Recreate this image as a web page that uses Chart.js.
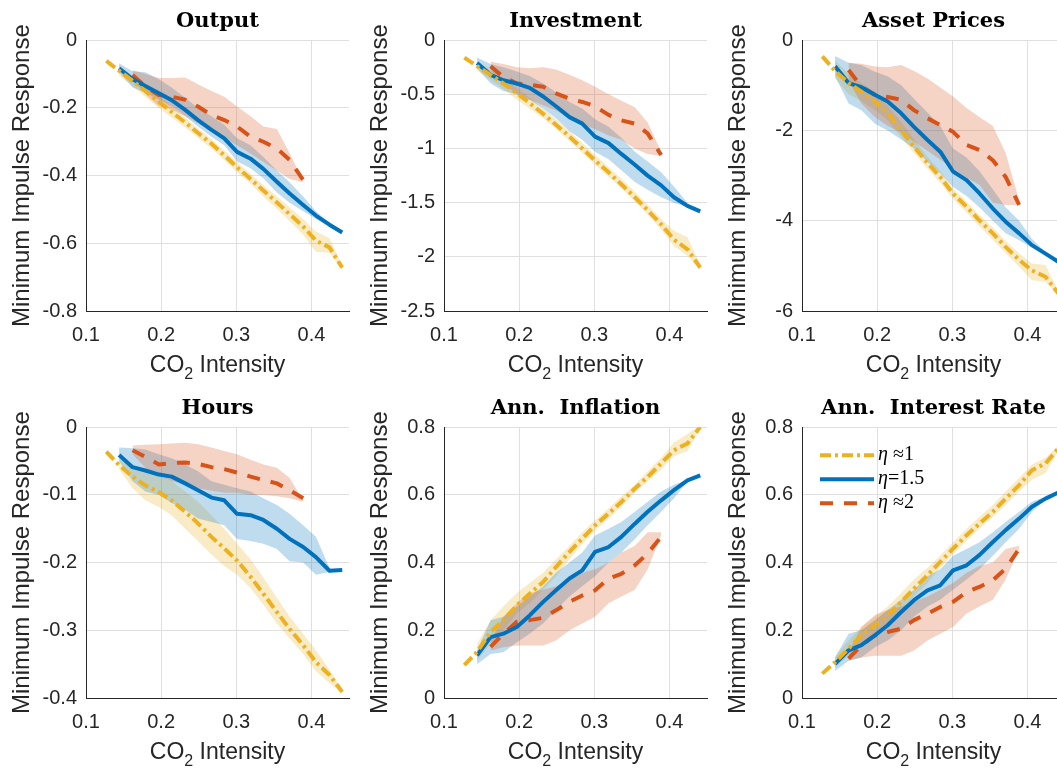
<!DOCTYPE html>
<html>
<head>
<meta charset="utf-8">
<script src="https://cdn.jsdelivr.net/npm/chart.js@4.4.1/dist/chart.umd.min.js"></script>
<style>
  html, body { margin: 0; background: #fff; overflow: hidden; }
  #fig { position: relative; width: 1057px; height: 768px; overflow: hidden; }
  #fig canvas { position: absolute; }
</style>
</head>
<body>
<div id="fig">
  <canvas id="c-output" width="358" height="387" style="left:0;top:0"></canvas>
  <canvas id="c-investment" width="358" height="387" style="left:358px;top:0"></canvas>
  <canvas id="c-asset" width="358" height="387" style="left:716px;top:0"></canvas>
  <canvas id="c-hours" width="358" height="387" style="left:0;top:387px"></canvas>
  <canvas id="c-inflation" width="358" height="387" style="left:358px;top:387px"></canvas>
  <canvas id="c-rate" width="358" height="387" style="left:716px;top:387px"></canvas>
</div>
<script>
// CO2 intensity grid shared by every panel
const co2 = [0.127, 0.144, 0.162, 0.179, 0.197, 0.214, 0.232, 0.249, 0.267, 0.284, 0.301, 0.319, 0.336, 0.354, 0.371, 0.389, 0.406, 0.424, 0.441];
const xTicks = [0.1, 0.2, 0.3, 0.4];
const etaLabels = ['η ≈1', 'η=1.5', 'η ≈2'];

// y ticks per panel
const outputTicks = [0, -0.2, -0.4, -0.6, -0.8];
const investmentTicks = [0, -0.5, -1, -1.5, -2, -2.5];
const assetTicks = [0, -2, -4, -6];
const hoursTicks = [0, -0.1, -0.2, -0.3, -0.4];
const inflationTicks = [0, 0.2, 0.4, 0.6, 0.8];
const rateTicks = [0, 0.2, 0.4, 0.6, 0.8];

// Output
const outputEta1 = [-0.061, -0.090, -0.120, -0.150, -0.182, -0.212, -0.243, -0.274, -0.306, -0.340, -0.375, -0.410, -0.444, -0.479, -0.514, -0.550, -0.592, -0.612, -0.672];
const outputEta1Lo = [null, -0.105, -0.135, -0.168, -0.200, -0.228, -0.258, -0.288, -0.320, -0.355, -0.390, -0.425, -0.462, -0.498, -0.535, -0.575, -0.625, -0.628, -0.678];
const outputEta1Hi = [null, -0.075, -0.105, -0.135, -0.165, -0.195, -0.228, -0.260, -0.292, -0.326, -0.360, -0.395, -0.428, -0.462, -0.494, -0.528, -0.565, -0.585, -0.666];
const outputEta15 = [null, -0.083, -0.115, -0.135, -0.157, -0.177, -0.206, -0.236, -0.265, -0.290, -0.330, -0.350, -0.380, -0.418, -0.453, -0.487, -0.518, -0.545, -0.568];
const outputEta15Lo = [null, -0.095, -0.140, -0.155, -0.175, -0.195, -0.225, -0.255, -0.285, -0.310, -0.358, -0.378, -0.408, -0.450, -0.480, -0.505, -0.528, -0.550, null];
const outputEta15Hi = [null, -0.068, -0.092, -0.095, -0.115, -0.140, -0.170, -0.200, -0.225, -0.250, -0.290, -0.310, -0.345, -0.385, -0.420, -0.462, -0.505, -0.540, null];
const outputEta2 = [null, null, -0.103, -0.137, -0.162, -0.167, -0.176, -0.196, -0.221, -0.236, -0.255, -0.285, -0.300, -0.320, -0.354, -0.413, null, null, null];
const outputEta2Lo = [null, null, -0.117, -0.160, -0.195, -0.205, -0.225, -0.245, -0.270, -0.290, -0.310, -0.335, -0.360, -0.385, -0.410, -0.420, null, null, null];
const outputEta2Hi = [null, null, -0.088, -0.100, -0.112, -0.112, -0.110, -0.130, -0.150, -0.167, -0.196, -0.225, -0.255, -0.262, -0.334, -0.415, null, null, null];

// Investment
const investmentEta1 = [-0.16, -0.24, -0.32, -0.40, -0.49, -0.58, -0.68, -0.78, -0.89, -1.00, -1.11, -1.22, -1.33, -1.45, -1.57, -1.70, -1.84, -1.93, -2.10];
const investmentEta1Lo = [null, -0.28, -0.37, -0.45, -0.55, -0.63, -0.72, -0.82, -0.93, -1.04, -1.15, -1.26, -1.37, -1.49, -1.61, -1.75, -1.90, -1.99, -2.12];
const investmentEta1Hi = [null, -0.20, -0.27, -0.35, -0.44, -0.53, -0.63, -0.73, -0.84, -0.95, -1.06, -1.17, -1.28, -1.40, -1.52, -1.65, -1.76, -1.82, -2.07];
const investmentEta15 = [null, -0.21, -0.32, -0.37, -0.40, -0.44, -0.52, -0.61, -0.71, -0.77, -0.89, -0.95, -1.05, -1.15, -1.25, -1.34, -1.45, -1.53, -1.58];
const investmentEta15Lo = [null, -0.26, -0.40, -0.47, -0.50, -0.55, -0.63, -0.72, -0.84, -0.92, -1.03, -1.10, -1.20, -1.31, -1.38, -1.45, -1.50, -1.54, null];
const investmentEta15Hi = [null, -0.16, -0.22, -0.25, -0.29, -0.33, -0.40, -0.48, -0.57, -0.63, -0.73, -0.80, -0.90, -1.03, -1.12, -1.22, -1.35, -1.50, null];
const investmentEta2 = [null, null, -0.24, -0.34, -0.40, -0.41, -0.43, -0.49, -0.54, -0.57, -0.61, -0.69, -0.74, -0.77, -0.86, -1.06, null, null, null];
const investmentEta2Lo = [null, null, -0.28, -0.40, -0.50, -0.55, -0.60, -0.65, -0.72, -0.78, -0.82, -0.88, -0.92, -1.00, -1.05, -1.07, null, null, null];
const investmentEta2Hi = [null, null, -0.20, -0.22, -0.25, -0.26, -0.25, -0.27, -0.32, -0.37, -0.43, -0.50, -0.56, -0.62, -0.76, -1.03, null, null, null];

// Asset prices
const assetEta1 = [-0.36, -0.68, -0.95, -1.14, -1.36, -1.62, -2.00, -2.36, -2.72, -3.03, -3.40, -3.69, -3.99, -4.28, -4.58, -4.87, -5.10, -5.24, -5.61];
const assetEta1Lo = [null, -0.85, -1.20, -1.35, -1.55, -1.78, -2.15, -2.50, -2.85, -3.16, -3.52, -3.82, -4.12, -4.42, -4.72, -5.02, -5.32, -5.35, -5.65];
const assetEta1Hi = [null, -0.45, -0.75, -0.95, -1.15, -1.45, -1.80, -2.20, -2.58, -2.90, -3.28, -3.58, -3.87, -4.15, -4.45, -4.72, -4.95, -4.98, -5.55];
const assetEta15 = [null, -0.58, -0.95, -1.04, -1.21, -1.36, -1.62, -1.92, -2.21, -2.47, -2.91, -3.10, -3.39, -3.73, -4.02, -4.28, -4.54, -4.73, -4.91];
const assetEta15Lo = [null, -0.80, -1.40, -1.55, -1.85, -2.00, -2.20, -2.40, -2.70, -2.95, -3.25, -3.45, -3.70, -4.00, -4.28, -4.43, -4.60, -4.76, null];
const assetEta15Hi = [null, -0.35, -0.50, -0.55, -0.70, -0.80, -1.00, -1.30, -1.60, -1.90, -2.40, -2.60, -2.90, -3.30, -3.70, -4.00, -4.40, -4.70, null];
const assetEta2 = [null, null, -0.66, -1.03, -1.21, -1.26, -1.32, -1.55, -1.73, -1.88, -2.03, -2.32, -2.43, -2.66, -3.03, -3.65, null, null, null];
const assetEta2Lo = [null, null, -0.90, -1.40, -1.70, -1.90, -2.05, -2.25, -2.45, -2.65, -2.85, -3.05, -3.20, -3.60, -3.65, -3.65, null, null, null];
const assetEta2Hi = [null, null, -0.50, -0.52, -0.58, -0.60, -0.55, -0.68, -0.85, -1.05, -1.25, -1.50, -1.70, -1.90, -2.50, -3.55, null, null, null];

// Hours
const hoursEta1 = [-0.036, -0.056, -0.073, -0.086, -0.096, -0.108, -0.125, -0.142, -0.162, -0.179, -0.197, -0.221, -0.246, -0.273, -0.298, -0.322, -0.347, -0.366, -0.391];
const hoursEta1Lo = [null, -0.062, -0.090, -0.108, -0.118, -0.130, -0.150, -0.168, -0.188, -0.205, -0.218, -0.238, -0.262, -0.290, -0.312, -0.335, -0.360, -0.378, -0.394];
const hoursEta1Hi = [null, -0.047, -0.060, -0.066, -0.072, -0.080, -0.095, -0.110, -0.130, -0.150, -0.172, -0.195, -0.222, -0.252, -0.280, -0.305, -0.330, -0.358, -0.388];
const hoursEta15 = [null, -0.041, -0.059, -0.064, -0.070, -0.073, -0.083, -0.093, -0.104, -0.108, -0.128, -0.130, -0.137, -0.150, -0.165, -0.177, -0.192, -0.212, -0.211];
const hoursEta15Lo = [null, -0.050, -0.080, -0.095, -0.100, -0.112, -0.122, -0.135, -0.140, -0.145, -0.165, -0.168, -0.172, -0.180, -0.198, -0.200, -0.218, -0.214, null];
const hoursEta15Hi = [null, -0.030, -0.031, -0.033, -0.040, -0.046, -0.055, -0.065, -0.080, -0.085, -0.090, -0.095, -0.105, -0.115, -0.128, -0.145, -0.162, -0.208, null];
const hoursEta2 = [null, null, -0.034, -0.044, -0.055, -0.053, -0.052, -0.054, -0.059, -0.062, -0.067, -0.073, -0.078, -0.083, -0.093, -0.105, null, null, null];
const hoursEta2Lo = [null, null, -0.040, -0.060, -0.072, -0.080, -0.085, -0.090, -0.094, -0.097, -0.097, -0.100, -0.100, -0.102, -0.105, -0.110, null, null, null];
const hoursEta2Hi = [null, null, -0.027, -0.026, -0.025, -0.024, -0.023, -0.025, -0.030, -0.035, -0.040, -0.048, -0.055, -0.060, -0.075, -0.108, null, null, null];

// Annualised inflation
const inflationEta1 = [0.097, 0.136, 0.195, 0.230, 0.274, 0.308, 0.343, 0.387, 0.432, 0.471, 0.510, 0.545, 0.579, 0.619, 0.653, 0.693, 0.732, 0.752, 0.801];
const inflationEta1Lo = [null, 0.110, 0.160, 0.200, 0.250, 0.280, 0.320, 0.360, 0.410, 0.455, 0.495, 0.530, 0.565, 0.605, 0.640, 0.675, 0.715, 0.730, 0.797];
const inflationEta1Hi = [null, 0.160, 0.230, 0.270, 0.310, 0.340, 0.370, 0.410, 0.450, 0.490, 0.525, 0.560, 0.595, 0.630, 0.670, 0.710, 0.755, 0.780, 0.805];
const inflationEta15 = [null, 0.126, 0.180, 0.190, 0.210, 0.244, 0.284, 0.318, 0.353, 0.377, 0.432, 0.446, 0.476, 0.515, 0.550, 0.584, 0.614, 0.643, 0.658];
const inflationEta15Lo = [null, 0.100, 0.130, 0.135, 0.165, 0.190, 0.220, 0.260, 0.300, 0.330, 0.360, 0.400, 0.430, 0.470, 0.510, 0.550, 0.590, 0.640, null];
const inflationEta15Hi = [null, 0.140, 0.230, 0.240, 0.270, 0.300, 0.330, 0.370, 0.400, 0.430, 0.480, 0.500, 0.520, 0.550, 0.580, 0.610, 0.630, 0.645, null];
const inflationEta2 = [null, null, 0.151, 0.190, 0.225, 0.230, 0.237, 0.259, 0.284, 0.303, 0.318, 0.353, 0.367, 0.392, 0.427, 0.476, null, null, null];
const inflationEta2Lo = [null, null, 0.140, 0.150, 0.155, 0.155, 0.155, 0.170, 0.200, 0.220, 0.240, 0.280, 0.300, 0.320, 0.380, 0.480, null, null, null];
const inflationEta2Hi = [null, null, 0.170, 0.240, 0.280, 0.310, 0.320, 0.330, 0.350, 0.370, 0.380, 0.400, 0.430, 0.450, 0.490, 0.490, null, null, null];

// Annualised interest rate
const rateEta1 = [0.072, 0.106, 0.146, 0.185, 0.215, 0.244, 0.284, 0.323, 0.363, 0.402, 0.441, 0.481, 0.515, 0.550, 0.589, 0.629, 0.673, 0.693, 0.737];
const rateEta1Lo = [null, 0.090, 0.125, 0.160, 0.190, 0.220, 0.260, 0.300, 0.340, 0.385, 0.425, 0.465, 0.500, 0.535, 0.570, 0.610, 0.645, 0.665, 0.730];
const rateEta1Hi = [null, 0.125, 0.170, 0.210, 0.240, 0.270, 0.310, 0.350, 0.385, 0.420, 0.460, 0.500, 0.535, 0.570, 0.610, 0.650, 0.690, 0.710, 0.745];
const rateEta15 = [null, 0.101, 0.141, 0.156, 0.185, 0.215, 0.254, 0.289, 0.318, 0.333, 0.377, 0.392, 0.422, 0.461, 0.496, 0.530, 0.565, 0.589, 0.607];
const rateEta15Lo = [null, 0.080, 0.110, 0.120, 0.150, 0.170, 0.200, 0.240, 0.270, 0.290, 0.320, 0.350, 0.380, 0.420, 0.460, 0.500, 0.550, 0.585, null];
const rateEta15Hi = [null, 0.120, 0.190, 0.200, 0.230, 0.260, 0.290, 0.320, 0.360, 0.380, 0.420, 0.440, 0.460, 0.490, 0.520, 0.550, 0.580, 0.595, null];
const rateEta2 = [null, null, 0.116, 0.156, 0.185, 0.195, 0.205, 0.230, 0.249, 0.269, 0.284, 0.313, 0.328, 0.348, 0.382, 0.441, null, null, null];
const rateEta2Lo = [null, null, 0.110, 0.120, 0.125, 0.125, 0.125, 0.140, 0.170, 0.190, 0.210, 0.250, 0.270, 0.290, 0.350, 0.440, null, null, null];
const rateEta2Hi = [null, null, 0.135, 0.210, 0.245, 0.260, 0.270, 0.285, 0.300, 0.320, 0.340, 0.370, 0.390, 0.400, 0.440, 0.450, null, null, null];

// line look for eta ~1, eta = 1.5, eta ~2
const styles = [
  { color: '#EDB120', dash: [11, 4, 3, 4], band: 'rgba(237, 177, 32, 0.25)' },
  { color: '#0072BD', dash: [], band: 'rgba(0, 114, 189, 0.25)' },
  { color: '#D95319', dash: [13, 11], band: 'rgba(217, 83, 25, 0.25)' }
];

const SANS = '"Liberation Sans", Arial, Helvetica, sans-serif';
const SERIF = '"Liberation Serif", "Times New Roman", serif';
const INK = '#262626';

function points(values) {
  return co2.map(function (x, i) { return { x: x, y: values[i] }; })
    .filter(function (p) { return p.y !== null; });
}

// x label with the subscript in CO2
const co2Caption = {
  id: 'co2Caption',
  afterDraw: function (chart) {
    const ctx = chart.ctx;
    const a = chart.chartArea;
    const big = '23px ' + SANS;
    const small = '16px ' + SANS;
    ctx.save();
    ctx.fillStyle = INK;
    ctx.textBaseline = 'alphabetic';
    ctx.font = big;
    const wCO = ctx.measureText('CO').width;
    const wRest = ctx.measureText(' Intensity').width;
    ctx.font = small;
    const w2 = ctx.measureText('2').width;
    let x = (a.left + a.right) / 2 - (wCO + w2 + wRest) / 2;
    const y = a.bottom + 61;
    ctx.font = big;
    ctx.fillText('CO', x, y);
    x += wCO;
    ctx.font = small;
    ctx.fillText('2', x, y + 7);
    x += w2;
    ctx.font = big;
    ctx.fillText(' Intensity', x, y);
    ctx.restore();
  }
};

// boxless legend in the upper left of the plot area
const etaLegend = {
  id: 'etaLegend',
  afterDatasetsDraw: function (chart, args, opts) {
    if (!opts.show) return;
    const ctx = chart.ctx;
    const a = chart.chartArea;
    const lines = chart.data.datasets.filter(function (d) { return d.label; });
    ctx.save();
    lines.forEach(function (d, i) {
      const y = a.top + 28 + i * 24;
      ctx.strokeStyle = d.borderColor;
      ctx.lineWidth = d.borderWidth;
      ctx.setLineDash(d.borderDash);
      ctx.beginPath();
      ctx.moveTo(a.left + 18, y);
      ctx.lineTo(a.left + 72, y);
      ctx.stroke();
      ctx.fillStyle = '#000';
      ctx.textBaseline = 'middle';
      let x = a.left + 76;
      ctx.font = 'italic 20px ' + SERIF;
      ctx.fillText(d.label.charAt(0), x, y);
      x += ctx.measureText(d.label.charAt(0)).width;
      ctx.font = '20px ' + SERIF;
      ctx.fillText(d.label.slice(1), x, y);
    });
    ctx.restore();
  }
};

function makePanel(canvasId, title, yTicks, groups, showLegend) {
  const datasets = [];
  // lines first: lower index is painted on top
  groups.forEach(function (g, i) {
    datasets.push({
      label: etaLabels[i],
      data: points(g[0]),
      borderColor: styles[i].color,
      borderWidth: 4,
      borderDash: styles[i].dash,
      borderCapStyle: 'butt',
      borderJoinStyle: 'round',
      pointRadius: 0,
      tension: 0,
      fill: false
    });
  });
  // bands: red on top, yellow at the bottom
  [2, 1, 0].forEach(function (i) {
    datasets.push({
      label: '',
      data: points(groups[i][1]),
      borderWidth: 0,
      borderColor: 'rgba(0,0,0,0)',
      pointRadius: 0,
      tension: 0,
      fill: false
    });
    datasets.push({
      label: '',
      data: points(groups[i][2]),
      borderWidth: 0,
      borderColor: 'rgba(0,0,0,0)',
      backgroundColor: styles[i].band,
      pointRadius: 0,
      tension: 0,
      fill: '-1'
    });
  });

  return new Chart(document.getElementById(canvasId), {
    type: 'line',
    data: { datasets: datasets },
    plugins: [co2Caption, etaLegend],
    options: {
      responsive: false,
      animation: false,
      devicePixelRatio: 1,
      events: [],
      layout: { padding: { left: 0, right: 9, top: 0, bottom: 0 } },
      plugins: {
        legend: { display: false },
        tooltip: { enabled: false },
        etaLegend: { show: !!showLegend },
        title: {
          display: true,
          text: title,
          fullSize: false,
          color: '#000',
          font: { family: '"DejaVu Serif", serif', size: 21, weight: 'bold', lineHeight: 1.2 },
          padding: { top: 9, bottom: 6 }
        }
      },
      scales: {
        x: {
          type: 'linear',
          min: 0.1,
          max: 0.45,
          afterBuildTicks: function (s) { s.ticks = xTicks.map(function (v) { return { value: v }; }); },
          afterFit: function (s) { s.height = 76; },
          ticks: {
            color: INK,
            font: { family: SANS, size: 20, lineHeight: 1.2 },
            padding: 12,
            maxRotation: 0,
            callback: function (v) { return String(v); }
          },
          grid: { color: '#dfdfdf', lineWidth: 1, drawTicks: false },
          border: { display: true, color: INK, width: 1 },
          title: { display: false }
        },
        y: {
          type: 'linear',
          min: Math.min(yTicks[0], yTicks[yTicks.length - 1]),
          max: Math.max(yTicks[0], yTicks[yTicks.length - 1]),
          afterBuildTicks: function (s) { s.ticks = yTicks.map(function (v) { return { value: v }; }); },
          afterFit: function (s) { s.width = 86; },
          ticks: {
            color: INK,
            font: { family: SANS, size: 20, lineHeight: 1.2 },
            padding: 9,
            callback: function (v) { return String(v); }
          },
          grid: { color: '#dfdfdf', lineWidth: 1, drawTicks: false },
          border: { display: true, color: INK, width: 1 },
          title: {
            display: true,
            text: 'Minimum Impulse Response',
            color: INK,
            font: { family: SANS, size: 24, lineHeight: 1.2 },
            padding: { top: 8, bottom: 0 }
          }
        }
      }
    }
  });
}

makePanel('c-output', 'Output', outputTicks, [
  [outputEta1, outputEta1Lo, outputEta1Hi],
  [outputEta15, outputEta15Lo, outputEta15Hi],
  [outputEta2, outputEta2Lo, outputEta2Hi]
]);
makePanel('c-investment', 'Investment', investmentTicks, [
  [investmentEta1, investmentEta1Lo, investmentEta1Hi],
  [investmentEta15, investmentEta15Lo, investmentEta15Hi],
  [investmentEta2, investmentEta2Lo, investmentEta2Hi]
]);
makePanel('c-asset', 'Asset Prices', assetTicks, [
  [assetEta1, assetEta1Lo, assetEta1Hi],
  [assetEta15, assetEta15Lo, assetEta15Hi],
  [assetEta2, assetEta2Lo, assetEta2Hi]
]);
makePanel('c-hours', 'Hours', hoursTicks, [
  [hoursEta1, hoursEta1Lo, hoursEta1Hi],
  [hoursEta15, hoursEta15Lo, hoursEta15Hi],
  [hoursEta2, hoursEta2Lo, hoursEta2Hi]
]);
makePanel('c-inflation', 'Ann.  Inflation', inflationTicks, [
  [inflationEta1, inflationEta1Lo, inflationEta1Hi],
  [inflationEta15, inflationEta15Lo, inflationEta15Hi],
  [inflationEta2, inflationEta2Lo, inflationEta2Hi]
]);
makePanel('c-rate', 'Ann.  Interest Rate', rateTicks, [
  [rateEta1, rateEta1Lo, rateEta1Hi],
  [rateEta15, rateEta15Lo, rateEta15Hi],
  [rateEta2, rateEta2Lo, rateEta2Hi]
], true);
</script>
</body>
</html>
